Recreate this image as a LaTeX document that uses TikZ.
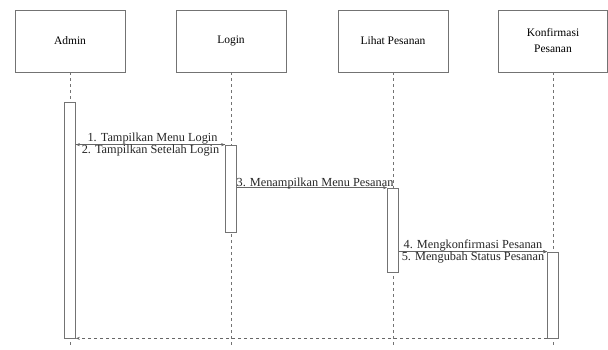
\documentclass[tikz,border=0pt]{standalone}
\usepackage{fontspec}
\setmainfont{Liberation Serif}
\usetikzlibrary{arrows.meta}
\begin{document}
\begin{tikzpicture}[x=1pt,y=-1pt,
  objbox/.style={draw=black!55,line width=0.9pt,fill=white,minimum width=110pt,minimum height=62pt,inner sep=1pt,align=center,font=\fontsize{11.5}{16}\selectfont},
  lifeline/.style={draw=black!55,dashed,dash pattern=on 3pt off 3pt,line width=0.6pt},
  actbar/.style={draw=black!55,fill=white,line width=0.7pt,minimum width=11pt,inner sep=0pt},
  msg/.style={draw=black!60,line width=0.5pt,-{Stealth[length=4pt,width=3pt]}},
  ret/.style={draw=black!60,line width=0.6pt,dashed,dash pattern=on 3pt off 3pt,-{Stealth[length=4pt,width=3pt]}},
  lbl/.style={font=\fontsize{12.3}{13}\selectfont,text=black!85,inner sep=0.5pt}]
\useasboundingbox (0,0) rectangle (608,349);
% objects
\node[objbox] (admin) at (70,41) {Admin};
\node[objbox] (login) at (231,41) {Login};
\node[objbox] (lihat) at (393,41) {Lihat Pesanan};
\node[objbox,minimum width=109pt] (konf) at (553,41) {Konfirmasi\\Pesanan};
% lifeline ends
\coordinate (aend) at (70,347);
\coordinate (lend) at (231,347);
\coordinate (pend) at (393,347);
\coordinate (kend) at (553,347);
\draw[lifeline] (admin.south) -- (aend);
\draw[lifeline] (login.south) -- (lend);
\draw[lifeline] (lihat.south) -- (pend);
\draw[lifeline] (konf.south) -- (kend);
% activation bars
\node[actbar,minimum height=236pt] (abar) at (70,220) {};
\node[actbar,minimum height=87pt] (lbar) at (231,188.5) {};
\node[actbar,minimum height=84pt] (pbar) at (393,230) {};
\node[actbar,minimum height=86pt] (kbar) at (553,295) {};
% messages
\coordinate (m1a) at (abar.east |- lbar.north);
\coordinate (m1b) at (lbar.north west);
\draw[msg] (m1a) -- node[lbl,above=0pt,xshift=2pt] {1. Tampilkan Menu Login} (m1b);
\draw[msg] (m1b) -- node[lbl,below=0pt] {2. Tampilkan Setelah Login} (m1a);
\coordinate (m3a) at (lbar.east |- pbar.north);
\coordinate (m3b) at (pbar.north west);
\draw[msg] (m3a) -- node[lbl,above=-2pt,xshift=3pt] {3. Menampilkan Menu Pesanan} (m3b);
\coordinate (m4a) at (pbar.east |- kbar.north);
\coordinate (m4b) at (kbar.north west);
\draw[msg] (m4a) -- node[lbl,above=0pt] {4. Mengkonfirmasi Pesanan} (m4b);
\draw[msg] (m4a) -- node[lbl,below=0pt] {5. Mengubah Status Pesanan} (m4b);
\draw[ret] (kbar.south west) -- (abar.south east);
\end{tikzpicture}
\end{document}
